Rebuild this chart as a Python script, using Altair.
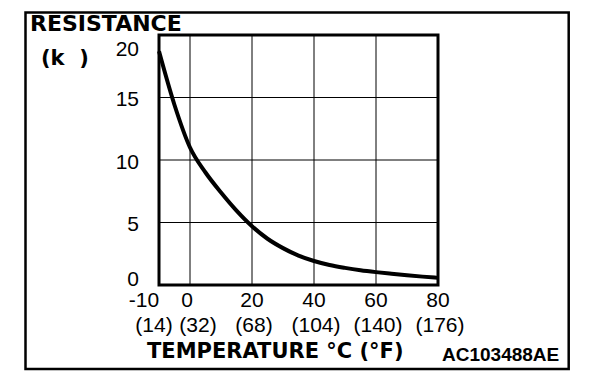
import altair as alt
import pandas as pd

# Curve: temperature (°C) -> resistance (kΩ)
temps = [-10, -5, 0, 5, 10, 15, 20, 25, 30, 35, 40, 45, 50, 55, 60, 65, 70, 75, 80]
resist = [18.7, 14.4, 11.0, 9.0, 7.4, 5.95, 4.7, 3.7, 2.95, 2.35, 1.92, 1.6, 1.37,
          1.18, 1.03, 0.9, 0.78, 0.67, 0.57]

x_ticks = [-10, 0, 20, 40, 60, 80]
c_labels = ["-10", "0", "20", "40", "60", "80"]
f_labels = ["(14)", "(32)", "(68)", "(104)", "(140)", "(176)"]
x_grid = [0, 20, 40, 60]

y_ticks = [0, 5, 10, 15, 20]
y_labels = ["0", "5", "10", "15", "20"]
y_grid = [5, 10, 15]

y_title = "RESISTANCE"
y_unit = "(k\u00a0\u00a0)"
x_title = "TEMPERATURE °C (°F)"
code = "AC103488AE"

xs = alt.Scale(domain=[-10, 80], nice=False, zero=False)
ys = alt.Scale(domain=[0, 20], nice=False, zero=False)

curve_df = pd.DataFrame({"t": temps, "r": resist})
xl_df = pd.DataFrame({"t": x_ticks, "c": c_labels, "f": f_labels})
yl_df = pd.DataFrame({"v": y_ticks, "lab": y_labels})

NUM_FONT = "Liberation Sans"
BOLD_FONT = "DejaVu Sans"

vgrid = alt.Chart(pd.DataFrame({"g": x_grid})).mark_rule(color="black", strokeWidth=1).encode(
    x=alt.X("g:Q", scale=xs, axis=None)
)
hgrid = alt.Chart(pd.DataFrame({"g": y_grid})).mark_rule(color="black", strokeWidth=1).encode(
    y=alt.Y("g:Q", scale=ys, axis=None)
)

curve = alt.Chart(curve_df).mark_line(
    color="black", strokeWidth=4, interpolate="monotone"
).encode(
    x=alt.X("t:Q", scale=xs, axis=None),
    y=alt.Y("r:Q", scale=ys, axis=None),
)


def xlabel_layer(field, cond, dx, ypix, size):
    return alt.Chart(xl_df).transform_filter(cond).mark_text(
        font=NUM_FONT, fontSize=size, align="center", baseline="alphabetic", dx=dx, color="black"
    ).encode(
        x=alt.X("t:Q", scale=xs, axis=None),
        y=alt.value(ypix),
        text=alt.Text(f"{field}:N"),
    )


c_first = xlabel_layer("c", "datum.t == -10", -15, 272, 21)
c_zero = xlabel_layer("c", "datum.t == 0", -3, 272, 21)
c_rest = xlabel_layer("c", "datum.t > 0", 0, 272, 21)
f_first = xlabel_layer("f", "datum.t == -10", -5, 297, 21)
f_zero = xlabel_layer("f", "datum.t == 0", 8, 297, 21)
f_rest = xlabel_layer("f", "datum.t > 0", 2, 297, 21)


def ylabel_layer(cond, dy):
    return alt.Chart(yl_df).transform_filter(cond).mark_text(
        font=NUM_FONT, fontSize=21, align="right", baseline="alphabetic", dy=dy, color="black"
    ).encode(
        x=alt.value(-20),
        y=alt.Y("v:Q", scale=ys, axis=None),
        text=alt.Text("lab:N"),
    )


y_top = ylabel_layer("datum.v == 20", 21)
y_mid = ylabel_layer("datum.v > 0 && datum.v < 20", 8.5)
y_zero = ylabel_layer("datum.v == 0", 1)


def free_text(txt, xpix, ypix, font, size, weight):
    return alt.Chart(pd.DataFrame({"s": [txt]})).mark_text(
        font=font, fontSize=size, fontWeight=weight, align="left",
        baseline="alphabetic", color="black"
    ).encode(x=alt.value(xpix), y=alt.value(ypix), text="s:N")


t_res = free_text(y_title, -129, -4, BOLD_FONT, 22, "bold")
t_unit = free_text(y_unit, -118, 30, BOLD_FONT, 21, "bold")
t_temp = free_text(x_title, -12, 323, BOLD_FONT, 21, "bold")
t_code = free_text(code, 283, 326, NUM_FONT, 19, "bold")

frame = alt.Chart(pd.DataFrame({"k": [0]})).mark_rect(
    fillOpacity=0, stroke="black", strokeWidth=2.5
).encode(
    x=alt.value(-133.5), x2=alt.value(409.7), y=alt.value(-22.5), y2=alt.value(334)
)

chart = alt.layer(
    vgrid, hgrid, curve, c_first, c_zero, c_rest, f_first, f_zero, f_rest,
    y_top, y_mid, y_zero, t_res, t_unit, t_temp, t_code, frame
).properties(
    width=279, height=250,
    autosize=alt.AutoSizeParams(type="none"),
    padding={"left": 151, "top": 27, "right": 150, "bottom": 90},
    background="white",
).configure_view(stroke="black", strokeWidth=3)

chart.save("out.html", embed_options={"renderer": "svg", "actions": False})
